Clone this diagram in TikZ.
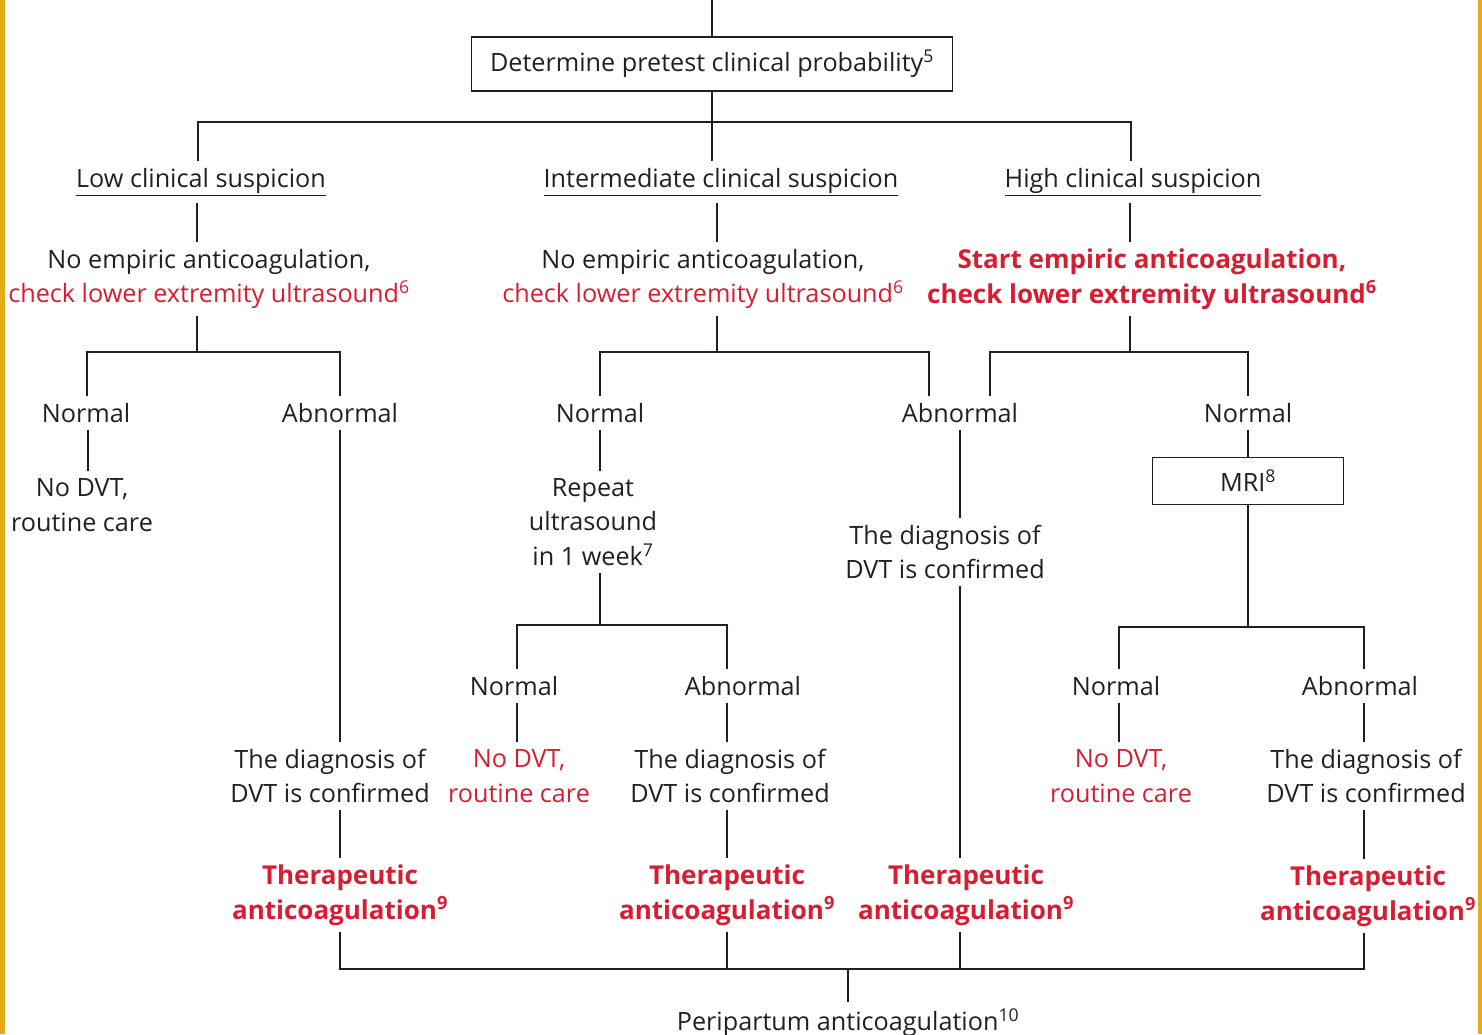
\documentclass[tikz,border=0pt]{standalone}
\usepackage{fontspec}
\setmainfont{Open Sans}
\definecolor{dvtred}{RGB}{214,30,50}
\definecolor{barY}{RGB}{230,172,24}
\definecolor{ln}{RGB}{35,31,32}
\begin{document}
\begin{tikzpicture}[x=1pt,y=-1pt,
  every node/.style={font=\fontsize{25.2}{34.5}\selectfont, text=ln, align=center, inner xsep=3pt, inner ysep=7pt},
  conn/.style={draw=ln, line width=1.6pt},
  boxnode/.style={draw=ln, line width=1.6pt, inner sep=0pt},
  rtxt/.style={text=dvtred},
  rbold/.style={text=dvtred, font=\fontsize{26}{34.5}\selectfont\bfseries}]
\useasboundingbox (0,0) rectangle (1482,1034);
\fill[barY] (0,0) rectangle (5,1034);
\fill[barY] (1478,0) rectangle (1482,1034);

% reference coordinates
\coordinate (top) at (712,0);
\coordinate (j0) at (712,122);
\coordinate (jL) at (197,352);
\coordinate (jI) at (717,352);
\coordinate (jH) at (1130,352);
\coordinate (jR) at (600,625);
\coordinate (jM) at (1248,627);
\coordinate (jB) at (848,969);
\coordinate (xL) at (340,0);
\coordinate (xR) at (727,0);
\coordinate (xS) at (960,0);
\coordinate (xM) at (1364,0);

% nodes
\node[boxnode, minimum width=481, minimum height=54] (det) at (712,64) {Determine pretest clinical probability\textsuperscript{5}};
\node (lowH) at (201,182) {\underline{Low clinical suspicion}};
\node (intH) at (721,182) {\underline{Intermediate clinical suspicion}};
\node (highH) at (1133,182) {\underline{High clinical suspicion}};

\node (lowT) at (209,279) {No empiric anticoagulation,\\\textcolor{dvtred}{check lower extremity ultrasound\textsuperscript{6}}};
\node (intT) at (703,279) {No empiric anticoagulation,\\\textcolor{dvtred}{check lower extremity ultrasound\textsuperscript{6}}};
\node[rbold] (hiT) at (1152,279) {Start empiric anticoagulation,\\check lower extremity ultrasound\textsuperscript{6}};

\node (lowN) at (86,413) {Normal};
\node (lowA) at (340,413) {Abnormal};
\node (intN) at (600,413) {Normal};
\node (shA) at (960,413) {Abnormal};
\node (hiN) at (1248,413) {Normal};

\node (lowND) at (82,505) {No DVT,\\routine care};
\node (rep) at (593,522) {Repeat\\ultrasound\\in 1 week\textsuperscript{7}};
\node (shD) at (945,552) {The diagnosis of\\DVT is confirmed};
\node[boxnode, minimum width=191, minimum height=47] (mri) at (1248,481) {MRI\textsuperscript{8}};

\node (rN) at (514,686) {Normal};
\node (rA) at (743,686) {Abnormal};
\node (mN) at (1116,686) {Normal};
\node (mA) at (1360,686) {Abnormal};

\node (lowAD) at (330,776) {The diagnosis of\\DVT is confirmed};
\node[rtxt] (rND) at (519,776) {No DVT,\\routine care};
\node (rAD) at (730,776) {The diagnosis of\\DVT is confirmed};
\node[rtxt] (mND) at (1121,776) {No DVT,\\routine care};
\node (mAD) at (1366,776) {The diagnosis of\\DVT is confirmed};

\node[rbold] (lowAT) at (340,895) {Therapeutic\\anticoagulation\textsuperscript{9}};
\node[rbold] (rAT) at (727,895) {Therapeutic\\anticoagulation\textsuperscript{9}};
\node[rbold] (shAT) at (966,895) {Therapeutic\\anticoagulation\textsuperscript{9}};
\node[rbold] (hiAT) at (1368,896) {Therapeutic\\anticoagulation\textsuperscript{9}};

\node (peri) at (848,1023) {Peripartum anticoagulation\textsuperscript{10}};

% connectors
\draw[conn] (top) -- (det.north);
\draw[conn] (det.south) -- (j0);
\draw[conn] ([xshift=-3]lowH.north) |- (j0) -| ([xshift=-2]highH.north);
\draw[conn] (j0) -- (j0 |- intH.north);

\draw[conn] (jL |- lowH.south) -- (jL |- lowT.north);
\draw[conn] (jI |- intH.south) -- (jI |- intT.north);
\draw[conn] (jH |- highH.south) -- (jH |- hiT.north);

\draw[conn] (jL |- lowT.south) -- (jL);
\draw[conn] (jI |- intT.south) -- (jI);
\draw[conn] (jH |- hiT.south) -- (jH);

\draw[conn] ([xshift=1]lowN.north) |- (jL) -| (lowA.north);
\draw[conn] (intN.north) |- (jI) -| ([xshift=-31]shA.north);
\draw[conn] ([xshift=30]shA.north) |- (jH) -| (hiN.north);

\draw[conn] ([xshift=2]lowN.south) -- ([xshift=2]lowN.south |- lowND.north);
\draw[conn] (lowA.south) -- (xL |- lowAD.north);
\draw[conn] (xL |- lowAD.south) -- (xL |- lowAT.north);

\draw[conn] (intN.south) -- (intN.south |- rep.north);
\draw[conn] (jR |- rep.south) -- (jR);
\draw[conn] ([xshift=3]rN.north) |- (jR) -| (xR |- rA.north);
\draw[conn] ([xshift=3]rN.south) -- ([xshift=3]rN.south |- rND.north);
\draw[conn] (xR |- rA.south) -- (xR |- rAD.north);
\draw[conn] (xR |- rAD.south) -- (xR |- rAT.north);

\draw[conn] (xS |- shA.south) -- (xS |- shD.north);
\draw[conn] (xS |- shD.south) -- (xS |- shAT.north);

\draw[conn] (hiN.south) -- (mri.north);
\draw[conn] (mri.south) -- (jM);
\draw[conn] ([xshift=3]mN.north) |- (jM) -| (xM |- mA.north);
\draw[conn] ([xshift=3]mN.south) -- ([xshift=3]mN.south |- mND.north);
\draw[conn] (xM |- mA.south) -- (xM |- mAD.north);
\draw[conn] (xM |- mAD.south) -- (xM |- hiAT.north);

\draw[conn] (xL |- lowAT.south) |- (xM |- jB) -- (xM |- hiAT.south);
\draw[conn] (xR |- rAT.south) -- (xR |- jB);
\draw[conn] (xS |- shAT.south) -- (xS |- jB);
\draw[conn] (jB) -- (peri.north);
\end{tikzpicture}
\end{document}
